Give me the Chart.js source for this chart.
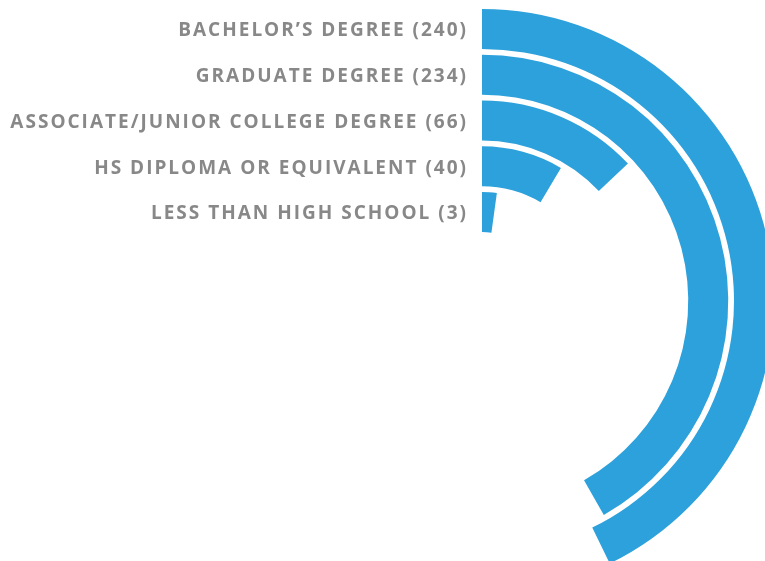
<!DOCTYPE html>
<html>
<head>
<meta charset="utf-8">
<script src="https://cdn.jsdelivr.net/npm/chart.js@4/dist/chart.umd.min.js"></script>
<style>
  html, body { margin: 0; padding: 0; background: #ffffff; overflow: hidden; width: 765px; height: 561px; }
  #wrap { position: absolute; left: 0; top: 0; width: 800px; height: 600px; }
</style>
</head>
<body>
<div id="wrap"><canvas id="c" width="800" height="600"></canvas></div>
<script>
// ---- data ----
const categories = [
  "BACHELOR\u2019S DEGREE",
  "GRADUATE DEGREE",
  "ASSOCIATE/JUNIOR COLLEGE DEGREE",
  "HS DIPLOMA OR EQUIVALENT",
  "LESS THAN HIGH SCHOOL"
];
const counts = [240, 234, 66, 40, 3];
// angular value axis (full turn spans this range, starting at 12 o'clock)
const angularAxisMin = -9.7;
const angularAxisMax = 573.8;

// ---- styles ----
const barColor = '#2DA1DB';
const labelColor = '#888888';
const ringWeight = 40;
const gapWeight = 5.75;
const labelSpacing = 2.0;

const datasets = [];
counts.forEach((v, i) => {
  if (i > 0) {
    datasets.push({
      label: 'gap' + i,
      data: [1],
      backgroundColor: ['rgba(0,0,0,0)'],
      weight: gapWeight,
      borderWidth: 0,
      hoverOffset: 0,
      isGap: true
    });
  }
  datasets.push({
    label: categories[i],
    data: [v - angularAxisMin, angularAxisMax - v],
    backgroundColor: [barColor, 'rgba(0,0,0,0)'],
    hoverBackgroundColor: [barColor, 'rgba(0,0,0,0)'],
    weight: ringWeight,
    borderWidth: 0,
    hoverOffset: 0,
    catIndex: i
  });
});

const labelPlugin = {
  id: 'ringLabels',
  afterDatasetsDraw(chart) {
    const ctx = chart.ctx;
    ctx.save();
    ctx.font = 'bold 19px "Open Sans"';
    let trail = 0;
    if ('letterSpacing' in ctx) { ctx.letterSpacing = labelSpacing + 'px'; trail = labelSpacing; }
    ctx.fillStyle = labelColor;
    ctx.textAlign = 'right';
    ctx.textBaseline = 'middle';
    chart.data.datasets.forEach((ds, di) => {
      if (ds.isGap) return;
      const arc = chart.getDatasetMeta(di).data[0];
      const y = arc.y - (arc.outerRadius + arc.innerRadius) / 2 + 2;
      const x = arc.x - 16 + trail;
      ctx.fillText(categories[ds.catIndex] + ' (' + counts[ds.catIndex] + ')', x, y);
    });
    ctx.restore();
  }
};

new Chart(document.getElementById('c'), {
  type: 'doughnut',
  data: { labels: ['value', 'rest'], datasets },
  options: {
    responsive: false,
    animation: false,
    cutout: 69,
    rotation: 0,
    circumference: 360,
    layout: { padding: { left: 190, top: 9, right: 26, bottom: 7 } },
    plugins: { legend: { display: false }, tooltip: { enabled: false } },
    events: []
  },
  plugins: [labelPlugin]
});
</script>
</body>
</html>
